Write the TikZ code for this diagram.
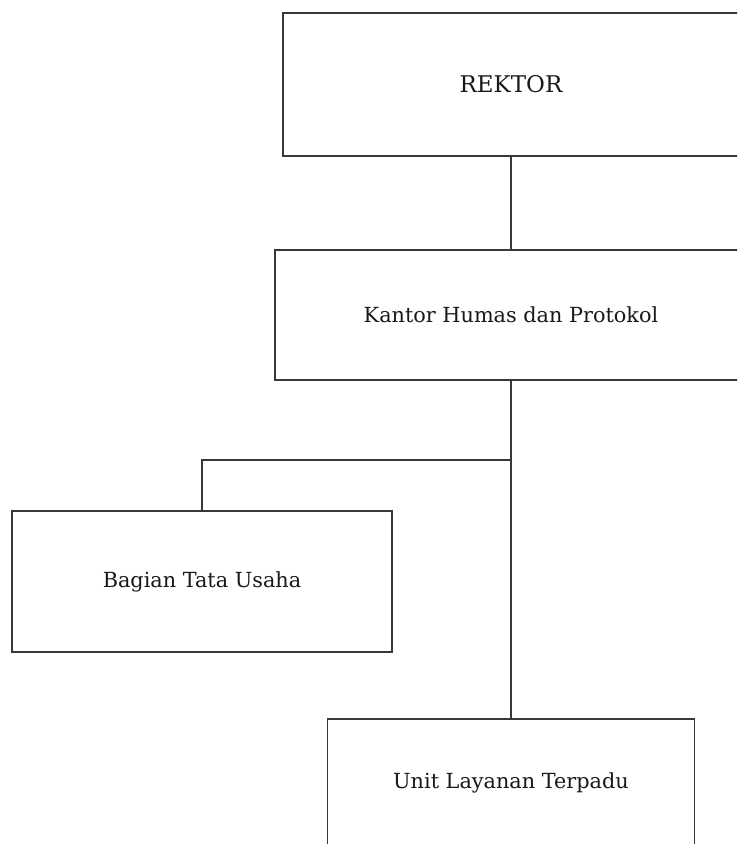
\documentclass[tikz,border=0pt]{standalone}
\usepackage{fontspec}
\setmainfont{DejaVu Serif}
\begin{document}
\begin{tikzpicture}[x=1pt,y=-1pt,
  box/.style={draw=black!78, line width=1.7pt, rectangle, inner sep=0pt, text=black!90, font=\fontsize{20.8}{25}\selectfont},
  conn/.style={draw=black!78, line width=1.7pt}]
\useasboundingbox (0,0) rectangle (737,844);
\fill[white] (0,0) rectangle (737,844);
\clip (0,0) rectangle (737,844);
\node[box, minimum width=456pt, minimum height=143pt, font=\fontsize{23}{27}\selectfont] (rektor) at (511,84.5) {REKTOR};
\node[box, minimum width=472pt, minimum height=130pt] (kantor) at (511,315) {Kantor Humas dan Protokol};
\node[box, minimum width=380pt, minimum height=141pt] (bagian) at (202,581.5) {Bagian Tata Usaha};
\node[box, minimum width=367pt, minimum height=128pt] (unit) at (511,783) {Unit Layanan Terpadu};
\coordinate (bus) at (511,460);
\coordinate (busL) at (202,460);
\draw[conn] (rektor.south) -- (kantor.north);
\draw[conn] (kantor.south) -- (unit.north);
\draw[conn] (bus) -- (busL) -- (bagian.north);
\end{tikzpicture}
\end{document}
